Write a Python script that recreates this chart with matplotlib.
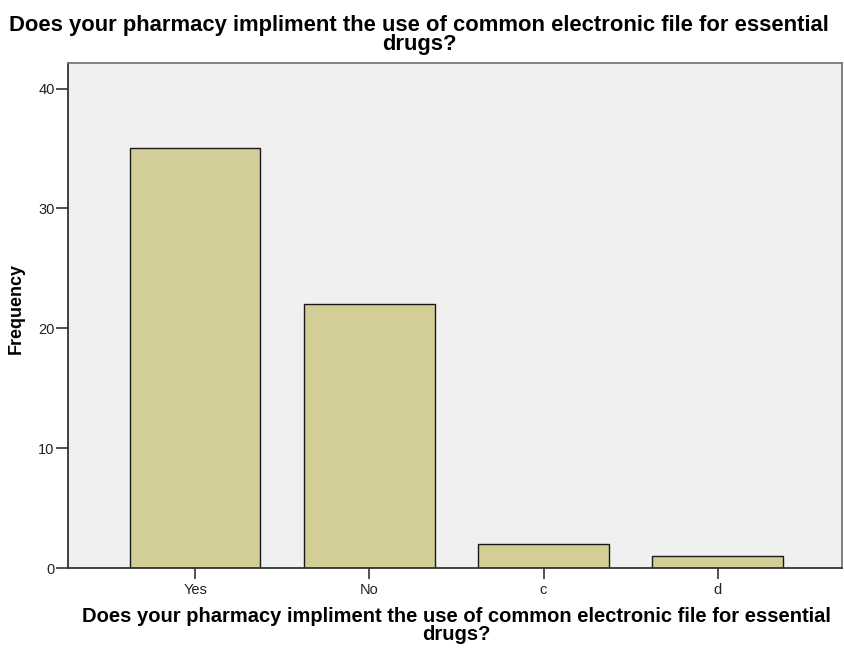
import matplotlib
matplotlib.use("Agg")
import matplotlib.pyplot as plt

categories = ["Yes", "No", "c", "d"]
frequency = [35, 22, 2, 1]
yticks = [0, 10, 20, 30, 40]

title = "Does your pharmacy impliment the use of common electronic file for essential\ndrugs?"

plt.rcParams['font.family'] = ['Liberation Sans', 'DejaVu Sans']

W, H = 845, 648
fig = plt.figure(figsize=(W/100, H/100), dpi=100)
left, right, top, bottom = 68.5, 842.5, 62.5, 568
ax = fig.add_axes([left/W, 1 - bottom/H, (right-left)/W, (bottom-top)/H])
ax.set_facecolor("#f0f0f0")

x = list(range(len(categories)))
ax.bar(x, frequency, width=0.75, color="#d3ce97", edgecolor="#1a1a1a", linewidth=1.0, zorder=2)

ax.set_xlim(-0.727, 3.716)
ax.set_ylim(0, 42.17)
ax.set_xticks(x)
ax.set_xticklabels(categories, fontsize=10.5, color="#222222")
ax.set_yticks(yticks)
ax.set_yticklabels([str(t) for t in yticks], fontsize=10.5, color="#222222")
ax.tick_params(axis='x', length=8, width=1.2, color="#333333", pad=3)
ax.tick_params(axis='y', length=9, width=1.2, color="#333333", pad=1)

for s in ["left", "bottom"]:
    ax.spines[s].set_color("#333333")
    ax.spines[s].set_linewidth(1.3)
for s in ["top", "right"]:
    ax.spines[s].set_color("#777777")
    ax.spines[s].set_linewidth(1.3)

ax.set_ylabel("Frequency", fontsize=13, fontweight="bold")
ax.yaxis.set_label_coords(-(left - 25) / (right - left), 0.514)

fig.text(419/W, 1 - 15/H, title, ha="center", va="top", fontsize=15.8,
         fontweight="bold", linespacing=0.85, multialignment="center")
fig.text(456/W, 1 - 607/H, title, ha="center", va="top", fontsize=14.5,
         fontweight="bold", linespacing=0.9, multialignment="center")

fig.savefig("out.png", dpi=100)
